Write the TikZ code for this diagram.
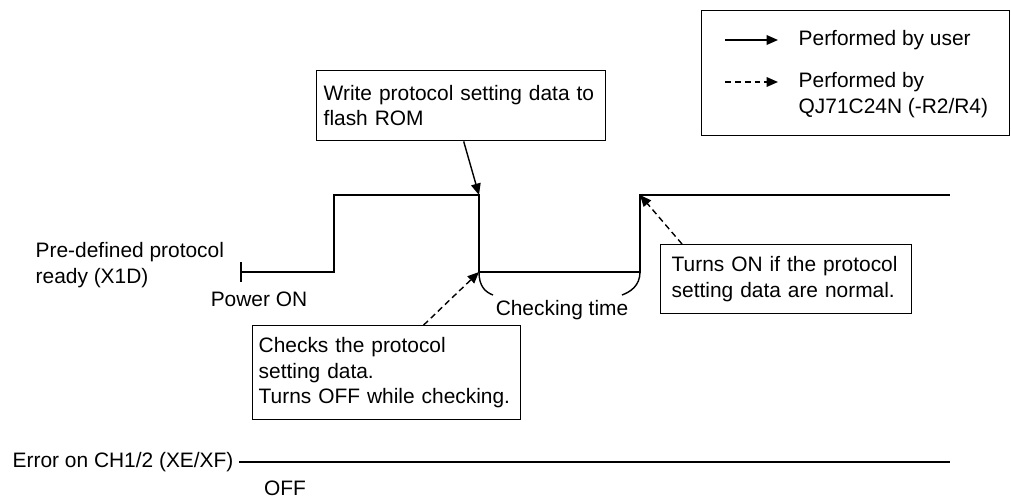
\documentclass[tikz,border=0pt]{standalone}
\usepackage{fontspec}
\setmainfont{Liberation Sans}
\usepackage{tikz}
\usetikzlibrary{arrows.meta}

\begin{document}
\begin{tikzpicture}[
    x=0.02cm, y=-0.02cm,
    font=\fontsize{11.9pt}{14.5pt}\selectfont,
    line width=0.8pt,
    note/.style={draw, anchor=north west, align=left, text width=#1, inner ysep=0pt},
    lbl/.style={inner sep=0pt, align=left},
    arrow/.style={-{Triangle[length=6.5pt, width=5.5pt]}},
    dasharrow/.style={arrow, dash pattern=on 3.4pt off 2.2pt}
]
\useasboundingbox (0,0) rectangle (1011,497);

% legend
\node[draw, anchor=north west, minimum width=6.16cm, minimum height=2.5cm] (legend) at (701,10) {};
\coordinate (us0) at (725,40);
\coordinate (us1) at (778,40);
\draw[arrow] (us0) -- (us1);
\node[lbl, anchor=west] (usr) at (798,40) {Performed by user};
\coordinate (qj0) at (725,82);
\coordinate (qj1) at (778,82);
\draw[dasharrow] (qj0) -- (qj1);
\node[lbl, anchor=west] (qj) at (798,95) {Performed by\\QJ71C24N (-R2/R4)};

% X1D signal
\coordinate (pwr) at (241,272);
\coordinate (up) at (334,272);
\coordinate (fallhi) at (479,195);
\coordinate (falllo) at (479,272);
\coordinate (riselo) at (640,272);
\coordinate (risehi) at (640,195);
\coordinate (hiend) at (950,195);
\draw (pwr) -- (up) |- (fallhi) -- (falllo) -- (riselo) -- (risehi) -- (hiend);
\draw ([yshift=0.2cm]pwr) -- ([yshift=-0.2cm]pwr);
\draw (falllo) .. controls +(0,14) and +(-8,-3) .. (493,295);
\draw (riselo) .. controls +(0,14) and +(8,-3) .. (622,295);

\node[lbl, anchor=west] (ready) at (35,265) {Pre-defined protocol\\ready (X1D)};
\node[lbl] (pwron) at (259,299) {Power ON};
\node[lbl] (chk) at (562,310) {Checking time};

% notes
\node[note=5.5cm, inner xsep=0.14cm, minimum height=1.4cm] (write) at (316,70) {Write protocol setting data to\\flash ROM};
\node[note=5.12cm, inner xsep=0.12cm, minimum height=1.88cm] (check) at (252,325) {Checks the protocol\\setting data.\\Turns OFF while checking.};
\node[note=4.58cm, inner xsep=0.22cm, minimum height=1.38cm] (normal) at (660,244) {Turns ON if the protocol\\setting data are normal.};

\draw[arrow] ([xshift=0.05cm]write.south) -- (fallhi);
\draw[dasharrow] ([xshift=0.74cm]check.north) -- (falllo);
\draw[dasharrow] ([xshift=0.44cm]normal.north west) -- (risehi);

% XE/XF signal
\node[lbl, anchor=west] (err) at (12,462) {Error on CH1/2 (XE/XF)};
\coordinate (errend) at (950,462);
\draw[shorten <=0.1cm] (err.east) -- (errend);
\node[lbl] (off) at (285,488) {OFF};
\end{tikzpicture}
\end{document}
